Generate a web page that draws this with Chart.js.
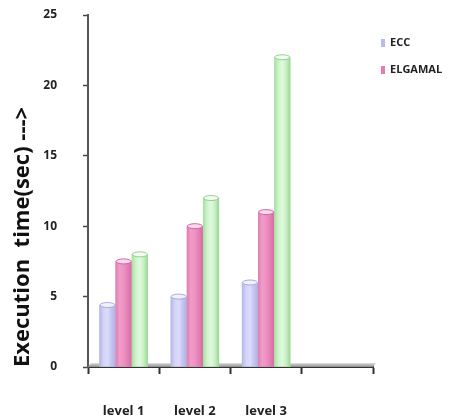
<!DOCTYPE html>
<html>
<head>
<meta charset="utf-8">
<script src="https://cdn.jsdelivr.net/npm/chart.js@4"></script>
<style>
  html, body { margin: 0; padding: 0; background: #ffffff; }
  #wrap { width: 452px; height: 419px; }
</style>
</head>
<body>
<div id="wrap"><canvas id="chart" width="452" height="419"></canvas></div>
<script>
// Execution time (seconds) per security level
const categories = ['level 1', 'level 2', 'level 3', ''];
const eccTimes = [4.4, 5.0, 6.0, null];
const elgamalTimes = [7.5, 10.0, 11.0, null];
const thirdTimes = [8.0, 12.0, 22.0, null];
const yTickValues = [0, 5, 10, 15, 20, 25];
const seriesLabels = ['ECC', 'ELGAMAL', ''];

// Cylinder shading per series: colour stops across the bar width, cap tone, legend swatch
const shades = [
  { base: '#c6c7f0', stops: ['#b3b4e6', '#d2d3f7', '#dcdcfa', '#c3c4ef', '#b0b1e3'], cap: '#f1f1fd', rim: '#a9abdc', swatch: '#b9bbec' },
  { base: '#ea8cbd', stops: ['#e07cb2', '#f09cc8', '#ee92c2', '#e47fb5', '#d86aa4'], cap: '#fbd8ea', rim: '#d4679f', swatch: '#e57eb0' },
  { base: '#c8f0c4', stops: ['#a5dda1', '#cdf3c9', '#e0f9dd', '#c7efc3', '#96d692'], cap: '#f3fdf1', rim: '#93d08f', swatch: '#b6ecb0' }
];

const fontFamily = '"Open Sans", "Liberation Sans", sans-serif';

// Grey floor slab under the bars
const floorPlugin = {
  id: 'floor',
  beforeDatasetsDraw(chart) {
    const { ctx, chartArea } = chart;
    const g = ctx.createLinearGradient(0, chartArea.bottom - 4, 0, chartArea.bottom);
    g.addColorStop(0, '#e2e2e2');
    g.addColorStop(1, '#8a8a8a');
    ctx.save();
    ctx.fillStyle = g;
    ctx.beginPath();
    ctx.moveTo(chartArea.left + 3, chartArea.bottom - 4);
    ctx.lineTo(chartArea.right + 3, chartArea.bottom - 4);
    ctx.lineTo(chartArea.right, chartArea.bottom);
    ctx.lineTo(chartArea.left, chartArea.bottom);
    ctx.closePath();
    ctx.fill();
    ctx.restore();
  }
};

// Shade each drawn bar across its width and put an elliptical cap on top
const cylinderShade = {
  id: 'cylinderShade',
  afterDatasetsDraw(chart) {
    const ctx = chart.ctx;
    chart.data.datasets.forEach((ds, i) => {
      const s = shades[i];
      chart.getDatasetMeta(i).data.forEach((bar, j) => {
        if (ds.data[j] == null) return;
        const { x, y, width, base } = bar.getProps(['x', 'y', 'width', 'base'], true);
        const l = x - width / 2;
        const g = ctx.createLinearGradient(l, 0, l + width, 0);
        s.stops.forEach((c, k) => g.addColorStop(k / (s.stops.length - 1), c));
        ctx.save();
        ctx.fillStyle = g;
        ctx.fillRect(l, y, width, base - y);
        ctx.beginPath();
        ctx.ellipse(x, y, width / 2 - 0.5, 2.5, 0, 0, Math.PI * 2);
        ctx.fillStyle = s.cap;
        ctx.fill();
        ctx.lineWidth = 1;
        ctx.strokeStyle = s.rim;
        ctx.stroke();
        ctx.restore();
      });
    });
  }
};

// Compact legend at the top right (named series only)
const sideLegend = {
  id: 'sideLegend',
  afterDraw(chart) {
    const ctx = chart.ctx;
    const x0 = chart.chartArea.right + 8;
    let y = 43;
    ctx.save();
    ctx.font = 'bold 11px ' + fontFamily;
    ctx.textBaseline = 'middle';
    chart.data.datasets.forEach((ds, i) => {
      if (!ds.label) return;
      ctx.fillStyle = shades[i].swatch;
      ctx.fillRect(x0, y - 4, 4, 8);
      ctx.fillStyle = '#222222';
      ctx.fillText(ds.label, x0 + 9, y);
      y += 27;
    });
    ctx.restore();
  }
};

const datasets = [eccTimes, elgamalTimes, thirdTimes].map((values, i) => ({
  label: seriesLabels[i],
  data: values,
  backgroundColor: shades[i].base,
  borderWidth: 0,
  categoryPercentage: 0.68,
  barPercentage: 1.0
}));

new Chart(document.getElementById('chart'), {
  type: 'bar',
  data: { labels: categories, datasets },
  options: {
    responsive: false,
    animation: false,
    devicePixelRatio: 1,
    layout: { padding: { left: 0, right: 79, top: 15, bottom: 0 } },
    plugins: {
      legend: { display: false },
      tooltip: { enabled: false }
    },
    scales: {
      x: {
        offset: true,
        grid: {
          offset: true,
          drawOnChartArea: false,
          drawTicks: true,
          tickLength: 7,
          tickWidth: 2,
          tickColor: '#333333'
        },
        border: { display: true, color: '#333333', width: 2 },
        ticks: {
          padding: 29,
          color: '#222222',
          font: { family: fontFamily, size: 13, weight: 'bold' }
        },
        afterFit(scale) { scale.height = 52; }
      },
      y: {
        min: 0,
        max: 25,
        afterBuildTicks(scale) { scale.ticks = yTickValues.map(v => ({ value: v })); },
        grid: {
          drawOnChartArea: false,
          drawTicks: true,
          tickLength: 5,
          tickWidth: 1.5,
          tickColor: '#444444'
        },
        border: { display: true, color: '#555555', width: 2 },
        ticks: {
          padding: 26,
          color: '#222222',
          font: { family: fontFamily, size: 12, weight: 'bold' }
        },
        title: {
          display: true,
          text: 'Execution  time(sec) --->',
          align: 'start',
          color: '#111111',
          padding: { top: 10, bottom: 0 },
          font: { family: fontFamily, size: 22, weight: 'bold' }
        },
        afterFit(scale) {
          scale.width = 88;
          // keep the wide label gap from pushing the plot area down
          scale.paddingTop = 6;
          scale.paddingBottom = 6;
        }
      }
    }
  },
  plugins: [floorPlugin, cylinderShade, sideLegend]
});
</script>
</body>
</html>
